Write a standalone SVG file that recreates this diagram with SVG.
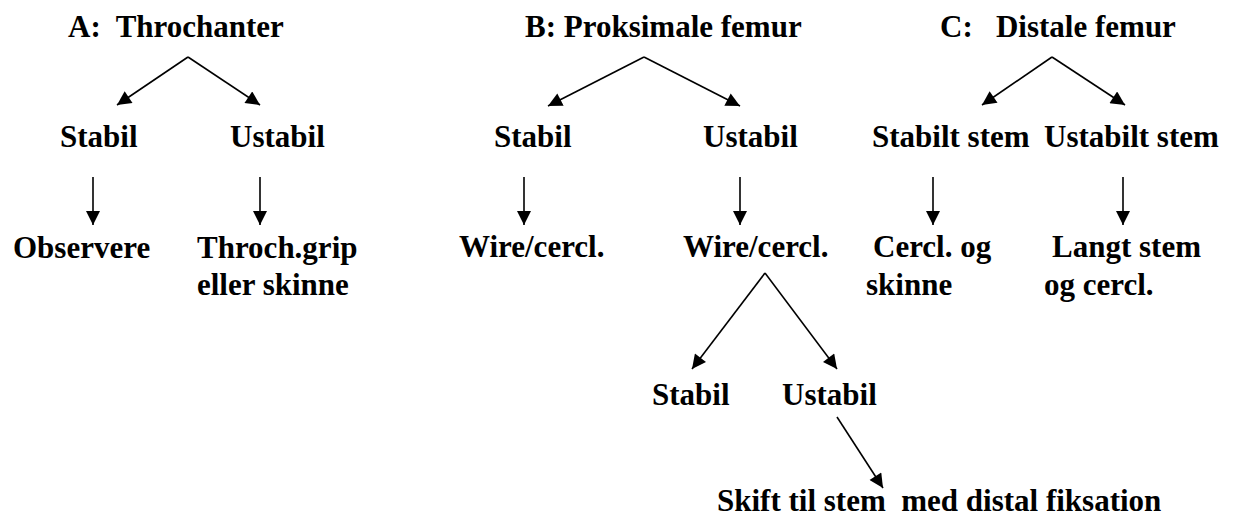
<svg xmlns="http://www.w3.org/2000/svg" width="1234" height="518" viewBox="0 0 1234 518">
<style>
text { font-family: "Liberation Serif", "Times New Roman", serif; font-weight: bold; font-size: 31px; fill: #000; white-space: pre; }
.c line { stroke: #000; stroke-width: 1.6; marker-end: url(#ah); }
</style>
<defs>
<marker id="ah" viewBox="0 0 14 14" refX="14" refY="7" markerWidth="15" markerHeight="14" markerUnits="userSpaceOnUse" orient="auto">
<path d="M0,0 L14,7 L0,14 z" fill="#000"/>
</marker>
</defs>
<rect width="1234" height="518" fill="#fff"/>
<g id="connectors" class="c">
<line x1="188" y1="57" x2="117" y2="105"/>
<line x1="188" y1="57" x2="260" y2="105"/>
<line x1="93" y1="177" x2="93" y2="225"/>
<line x1="260" y1="177" x2="260" y2="225"/>
<line x1="644" y1="57" x2="548" y2="106"/>
<line x1="644" y1="57" x2="740" y2="106"/>
<line x1="524" y1="177" x2="524" y2="225"/>
<line x1="740" y1="177" x2="740" y2="225"/>
<line x1="1052" y1="57" x2="982" y2="105"/>
<line x1="1052" y1="57" x2="1125" y2="105"/>
<line x1="933" y1="177" x2="933" y2="225"/>
<line x1="1123" y1="177" x2="1123" y2="225"/>
<line x1="765" y1="273" x2="692" y2="369"/>
<line x1="765" y1="273" x2="837" y2="369"/>
<line x1="837" y1="417" x2="883" y2="488"/>
</g>
<g id="a-title"><text x="68" y="37" xml:space="preserve">A:  Throchanter</text></g>
<g id="a-stabil"><text x="60" y="147">Stabil</text></g>
<g id="a-ustabil"><text x="230" y="147">Ustabil</text></g>
<g id="a-observere"><text x="13" y="258">Observere</text></g>
<g id="a-throch"><text x="197" y="258">Throch.grip</text><text x="197" y="295">eller skinne</text></g>
<g id="b-title"><text x="525" y="37">B: Proksimale femur</text></g>
<g id="b-stabil"><text x="494" y="147">Stabil</text></g>
<g id="b-ustabil"><text x="703" y="147">Ustabil</text></g>
<g id="b-wire1"><text x="459" y="257">Wire/cercl.</text></g>
<g id="b-wire2"><text x="683" y="257">Wire/cercl.</text></g>
<g id="b-stabil2"><text x="652" y="405">Stabil</text></g>
<g id="b-ustabil2"><text x="782" y="405">Ustabil</text></g>
<g id="b-skift"><text x="717" y="511" xml:space="preserve">Skift til stem  med distal fiksation</text></g>
<g id="c-title"><text x="940" y="37" xml:space="preserve">C:   Distale femur</text></g>
<g id="c-stabilt"><text x="872" y="147">Stabilt stem</text></g>
<g id="c-ustabilt"><text x="1044" y="147">Ustabilt stem</text></g>
<g id="c-cercl"><text x="873" y="257">Cercl. og</text><text x="866" y="295">skinne</text></g>
<g id="c-langt"><text x="1052" y="257">Langt stem</text><text x="1044" y="295">og cercl.</text></g>
</svg>
